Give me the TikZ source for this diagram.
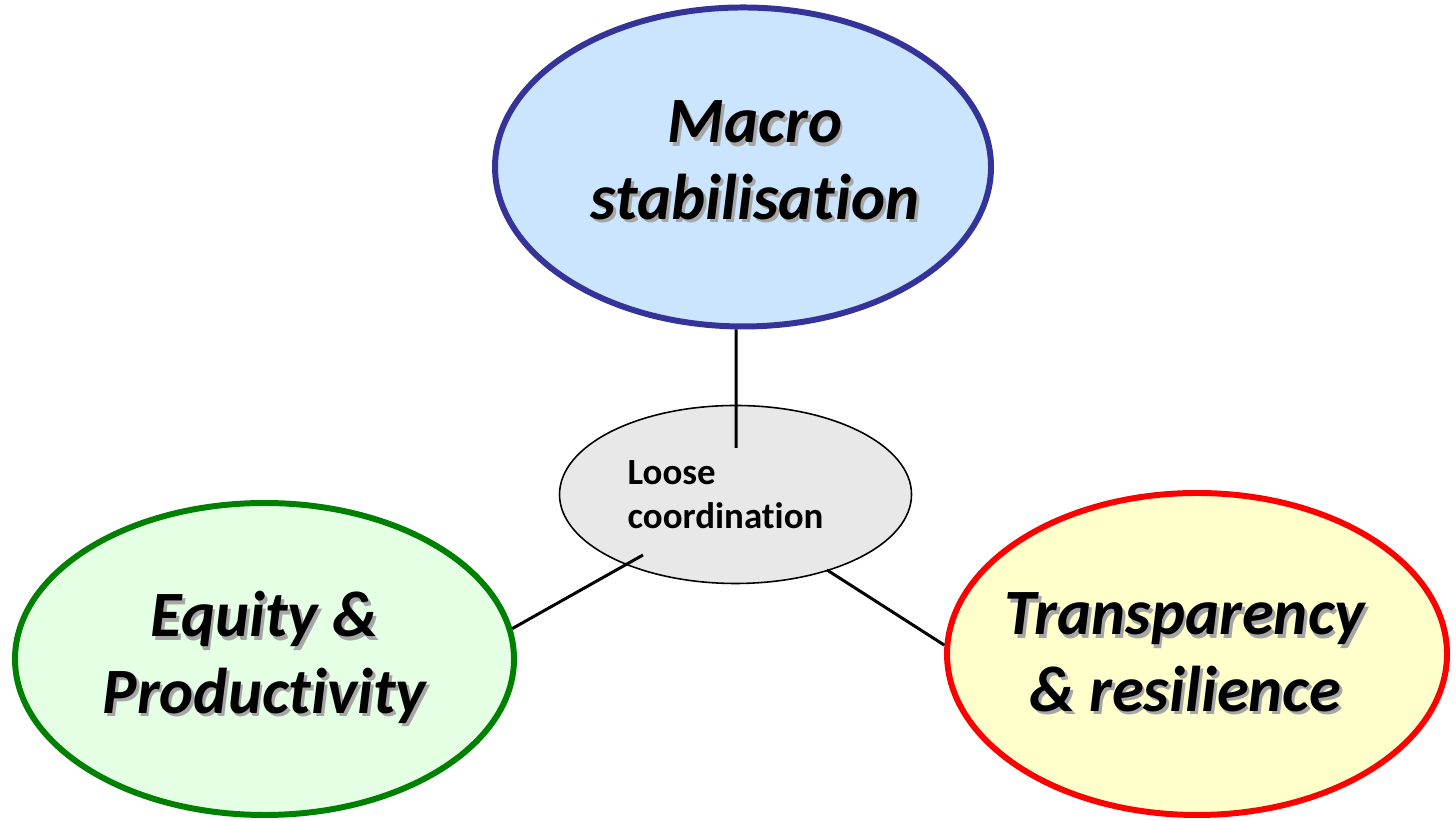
\documentclass[tikz,border=0pt]{standalone}
\usepackage{fontspec}
\setmainfont{Carlito}[Ligatures=NoCommon]
\usetikzlibrary{shapes.geometric}
\definecolor{macroBlue}{RGB}{51,51,153}
\definecolor{macroFill}{RGB}{204,229,255}
\definecolor{equityGreen}{RGB}{0,128,0}
\definecolor{equityFill}{RGB}{229,255,229}
\definecolor{transFill}{RGB}{255,255,204}
\definecolor{hubFill}{RGB}{232,232,232}
\newcommand{\shadowed}[1]{\leavevmode\rlap{\kern0.8pt\raisebox{-1pt}{\textcolor{black!35}{#1}}}#1}
\newcommand{\bigLabel}[0]{\fontsize{18.4}{21.8}\selectfont\bfseries\itshape}

\begin{document}
\begin{tikzpicture}
  \tikzset{pillar/.style={ellipse,draw,line width=1.7pt,inner sep=0pt,align=center,font=\bigLabel},
           hub/.style={ellipse,draw=black,fill=hubFill,line width=0.45pt,inner sep=0pt,align=left,
                       font=\fontsize{10.5}{12.5}\selectfont\bfseries},
           link/.style={line width=0.85pt}}
  \useasboundingbox (0,0) rectangle (14.56,8.21);
  \node[hub,minimum width=3.52cm,minimum height=1.78cm] (hub) at (7.355,3.265) {Loose\\coordination\hspace*{0.2cm}};
  \node[pillar,draw=macroBlue,fill=macroFill,minimum width=4.96cm,minimum height=3.19cm,text depth=0.14cm] (macro) at (7.43,6.54)
       {\shadowed{Macro}\hspace*{-0.24cm}\\\shadowed{stabilisation}\hspace*{-0.24cm}};
  \node[pillar,draw=equityGreen,fill=equityFill,minimum width=4.99cm,minimum height=3.12cm] (equity) at (2.645,1.62)
       {\shadowed{Equity \&}\\\shadowed{Productivity}};
  \node[pillar,draw=red,fill=transFill,minimum width=5.0cm,minimum height=3.22cm] (trans) at (11.97,1.67)
       {\hspace*{-0.24cm}\shadowed{Transparency}\\\hspace*{-0.24cm}\shadowed{\& resilience}};
  \coordinate (hubTop) at (7.36,3.73);
  \coordinate (hubLeft) at (6.43,2.66);
  \coordinate (hubRight) at (8.27,2.51);
  \draw[link] ([xshift=-0.07cm]macro.south) -- (hubTop);
  \draw[link] (hubLeft) -- (equity.7);
  \draw[link] (hubRight) -- (trans.178);
\end{tikzpicture}
\end{document}
